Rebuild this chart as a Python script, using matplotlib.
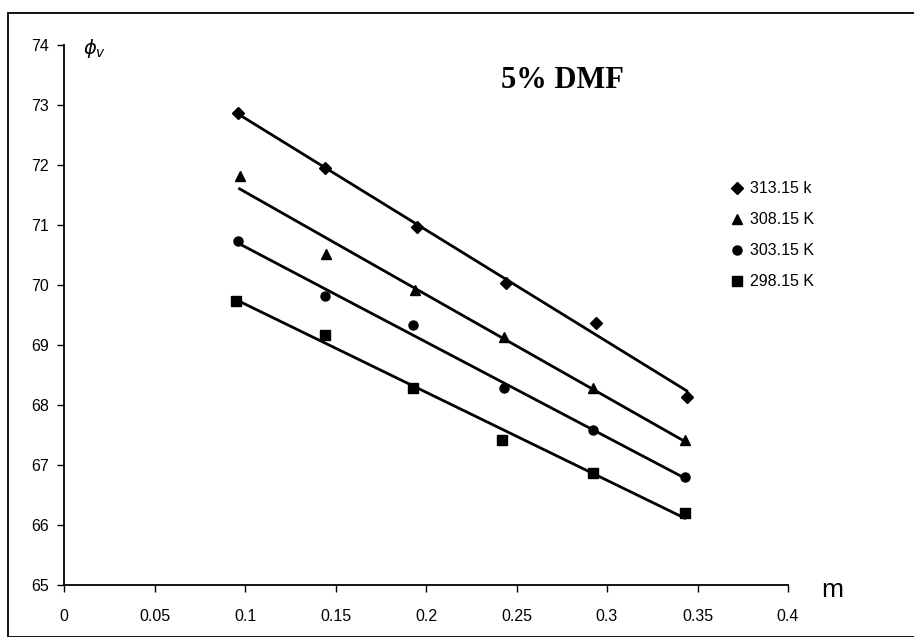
import matplotlib
matplotlib.use("Agg")
import matplotlib.pyplot as plt
import numpy as np
from matplotlib.patches import Rectangle

# molality (m) and apparent molar volume
x313 = [0.096, 0.144, 0.195, 0.244, 0.294, 0.344]
y313 = [72.87, 71.95, 70.97, 70.04, 69.37, 68.13]
x308 = [0.097, 0.145, 0.194, 0.243, 0.292, 0.343]
y308 = [71.81, 70.52, 69.92, 69.14, 68.28, 67.42]
x303 = [0.096, 0.144, 0.193, 0.243, 0.292, 0.343]
y303 = [70.74, 69.81, 69.33, 68.28, 67.58, 66.80]
x298 = [0.095, 0.144, 0.193, 0.242, 0.292, 0.343]
y298 = [69.74, 69.17, 68.28, 67.42, 66.87, 66.20]

labels = ['313.15 k', '308.15 K', '303.15 K', '298.15 K']
xticks = [0, 0.05, 0.1, 0.15, 0.2, 0.25, 0.3, 0.35, 0.4]
xticklabels = ['0', '0.05', '0.1', '0.15', '0.2', '0.25', '0.3', '0.35', '0.4']
yticks = [65, 66, 67, 68, 69, 70, 71, 72, 73, 74]

plt.rcParams['font.family'] = ['Liberation Sans', 'DejaVu Sans']

fig = plt.figure(figsize=(9.14, 6.37), dpi=100)
ax = fig.add_axes([64/914, 1-585/637, (788-64)/914, (585-45)/637])

series = [(x313, y313, 'D', 6), (x308, y308, '^', 7), (x303, y303, 'o', 6.5), (x298, y298, 's', 6.5)]
for (xs, ys, mk, ms), lab in zip(series, labels):
    ax.plot(xs, ys, linestyle='none', marker=mk, markersize=ms, color='black', label=lab)
    # linear trendline over the data range
    p = np.poly1d(np.polyfit(xs, ys, 1))
    xl = np.array([min(xs), max(xs)])
    ax.plot(xl, p(xl), color='black', linewidth=2.0)

ax.set_xlim(0, 0.4)
ax.set_ylim(65, 74)
ax.set_xticks(xticks)
ax.set_xticklabels(xticklabels)
ax.set_yticks(yticks)
ax.spines['top'].set_visible(False)
ax.spines['right'].set_visible(False)
ax.spines['left'].set_linewidth(1.3)
ax.spines['bottom'].set_linewidth(1.3)
ax.tick_params(direction='out', length=5, width=1, labelsize=11.5, colors='black')
ax.tick_params(axis='x', pad=12)
ax.tick_params(axis='y', pad=6)

leg = ax.legend(loc='upper left', bbox_to_anchor=(723/914, 1-175/637), bbox_transform=fig.transFigure,
                frameon=False, fontsize=11.5, handletextpad=0.3, labelspacing=1.0,
                handlelength=1.0, borderaxespad=0)

fig.text(83/914, 1-48/637, r'$\phi_v$', fontsize=14, ha='left', va='center', family='DejaVu Serif')
fig.text(832/914, 1-590/637, 'm', fontsize=19, ha='center', va='center')
fig.text(562/914, 1-80/637, '5% DMF', fontsize=22, fontweight='bold', ha='center', va='center',
         family='Liberation Serif')

# chart area border
fig.add_artist(Rectangle((8/914, 0), 1.0, 1-13/637, transform=fig.transFigure,
                         fill=False, edgecolor='black', linewidth=1.3, clip_on=False))

fig.savefig('out.png', dpi=100)
